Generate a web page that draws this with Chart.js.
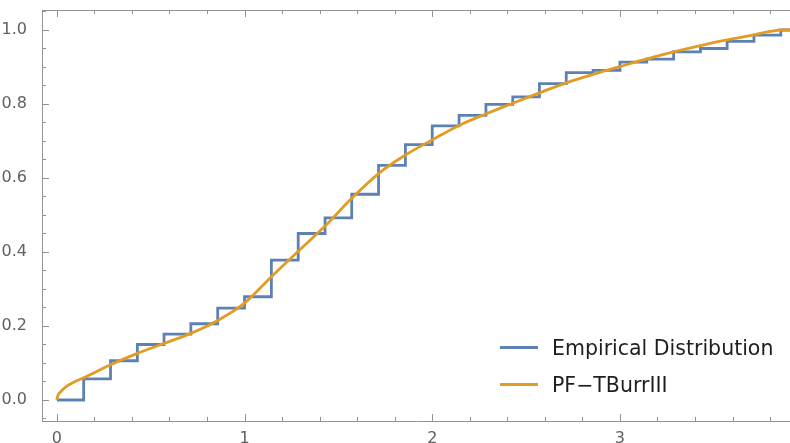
<!DOCTYPE html>
<html>
<head>
<meta charset="utf-8">
<script src="https://cdn.jsdelivr.net/npm/chart.js@4.4.0/dist/chart.umd.min.js"></script>
<style>
  html, body { margin: 0; padding: 0; background: #fff; }
  #wrap { position: relative; width: 790px; height: 443px; }
  #legend { position: absolute; left: 500px; top: 329px; font-family: "DejaVu Sans", sans-serif; font-size: 20.5px; color: #1e1e1e; }
  .item { display: flex; align-items: center; height: 37px; }
  .swatch { width: 38px; height: 2.5px; margin-right: 14px; }
</style>
</head>
<body>
<div id="wrap">
  <canvas id="chart" width="790" height="443"></canvas>
  <div id="legend"></div>
</div>
<script>
/* CDF: empirische verdeling (trap) tegen de PF-TBurrIII curve */

const stepX = [0, 0.143, 0.286, 0.429, 0.571, 0.714, 0.857, 1.0, 1.143, 1.286, 1.429, 1.571, 1.714, 1.857,
               2.0, 2.143, 2.286, 2.429, 2.571, 2.714, 2.857, 3.0, 3.143, 3.286, 3.429, 3.571, 3.714, 3.857, 3.95];
const stepY = [0, 0.057, 0.106, 0.150, 0.178, 0.206, 0.248, 0.279, 0.378, 0.450, 0.492, 0.556, 0.634, 0.690,
               0.741, 0.769, 0.799, 0.819, 0.855, 0.885, 0.891, 0.913, 0.921, 0.941, 0.950, 0.969, 0.986, 1.0, 1.0];

const curveX = [0, 0.005, 0.02, 0.05, 0.09, 0.143, 0.286, 0.429, 0.571, 0.714, 0.857, 1.0, 1.143, 1.286, 1.429,
                1.571, 1.714, 1.857, 2.0, 2.143, 2.286, 2.429, 2.571, 2.714, 2.857, 3.0, 3.143, 3.286, 3.429,
                3.571, 3.714, 3.8, 3.857, 3.95];
const curveY = [0, 0.011, 0.022, 0.036, 0.048, 0.060, 0.095, 0.126, 0.153, 0.180, 0.215, 0.262, 0.333, 0.402, 0.470,
                0.545, 0.612, 0.662, 0.703, 0.742, 0.773, 0.802, 0.830, 0.857, 0.880, 0.901, 0.922, 0.941, 0.958,
                0.973, 0.987, 0.996, 1.0, 1.0];

const seriesNames = ["Empirical Distribution", "PF\u2212TBurrIII"];
const xMajorTicks = [0, 1, 2, 3];
const yMajorTicks = [0, 0.2, 0.4, 0.6, 0.8, 1.0];
const xMinorTicks = [0.2, 0.4, 0.6, 0.8, 1.2, 1.4, 1.6, 1.8, 2.2, 2.4, 2.6, 2.8, 3.2, 3.4, 3.6, 3.8];
const yMinorTicks = [-0.05, 0.05, 0.1, 0.15, 0.25, 0.3, 0.35, 0.45, 0.5, 0.55, 0.65, 0.7, 0.75,
                     0.85, 0.9, 0.95, 1.05];

const blue = "rgb(94,129,181)";
const orange = "rgb(225,156,36)";
const frameColor = "#939393";
const labelColor = "#606060";
const fontFamily = "'DejaVu Sans', sans-serif";

const toPoints = (xs, ys) => xs.map((x, i) => ({x: x, y: ys[i]}));

// geen extra randruimte voor de labels, het plotvlak ligt vast
const noPad = s => { s.paddingTop = 0; s.paddingBottom = 0; s.paddingLeft = 0; s.paddingRight = 0; };

// Mathematica-achtige frame: ticks naar binnen, ook aan de bovenkant
const frameTicks = {
    id: "frameTicks",
    afterDatasetsDraw(chart) {
        const {ctx, chartArea: a, scales: {x, y}} = chart;
        ctx.save();
        ctx.strokeStyle = frameColor;
        ctx.lineWidth = 1;
        ctx.beginPath();
        ctx.moveTo(a.left, a.top + 0.5);
        ctx.lineTo(a.right, a.top + 0.5);
        const xt = (v, len) => {
            const px = Math.round(x.getPixelForValue(v)) + 0.5;
            ctx.moveTo(px, a.bottom); ctx.lineTo(px, a.bottom - len);
            ctx.moveTo(px, a.top); ctx.lineTo(px, a.top + len);
        };
        const yt = (v, len) => {
            const py = Math.round(y.getPixelForValue(v)) + 0.5;
            ctx.moveTo(a.left, py); ctx.lineTo(a.left + len, py);
        };
        xMajorTicks.forEach(v => xt(v, 7));
        xMinorTicks.forEach(v => xt(v, 4));
        yMajorTicks.forEach(v => yt(v, 7));
        yMinorTicks.forEach(v => yt(v, 4));
        ctx.stroke();
        ctx.restore();
    }
};

const chart = new Chart(document.getElementById("chart"), {
    type: "line",
    data: {
        datasets: [{
            label: seriesNames[0],
            data: toPoints(stepX, stepY),
            borderColor: blue,
            borderWidth: 2.8,
            stepped: true,
            pointRadius: 0,
            fill: false,
            order: 2
        }, {
            label: seriesNames[1],
            data: toPoints(curveX, curveY),
            borderColor: orange,
            borderWidth: 2.8,
            cubicInterpolationMode: "monotone",
            pointRadius: 0,
            fill: false,
            order: 1
        }]
    },
    options: {
        responsive: false,
        animation: false,
        layout: {padding: {top: 10, left: 0, right: 0, bottom: 0}},
        plugins: {legend: {display: false}, tooltip: {enabled: false}},
        scales: {
            x: {
                type: "linear",
                min: -0.079,
                max: 3.906,
                afterFit: s => { s.height = 22; noPad(s); },
                afterBuildTicks: s => { s.ticks = xMajorTicks.map(v => ({value: v})); },
                grid: {display: false},
                border: {display: true, color: frameColor, width: 1},
                ticks: {color: labelColor, font: {family: fontFamily, size: 16}, padding: 0,
                        maxRotation: 0, autoSkip: false, callback: v => String(v)}
            },
            y: {
                type: "linear",
                min: -0.0568,
                max: 1.054,
                afterFit: s => { s.width = 42; noPad(s); },
                afterBuildTicks: s => { s.ticks = yMajorTicks.map(v => ({value: v})); },
                grid: {display: false},
                border: {display: true, color: frameColor, width: 1},
                ticks: {color: labelColor, font: {family: fontFamily, size: 16}, padding: 7,
                        autoSkip: false, callback: v => v.toFixed(1)}
            }
        }
    },
    plugins: [frameTicks]
});

// legenda rechtsonder in het plotvlak
const legend = document.getElementById("legend");
chart.data.datasets.forEach(ds => {
    const row = document.createElement("div");
    row.className = "item";
    const sw = document.createElement("span");
    sw.className = "swatch";
    sw.style.background = ds.borderColor;
    const txt = document.createElement("span");
    txt.textContent = ds.label;
    row.appendChild(sw);
    row.appendChild(txt);
    legend.appendChild(row);
});
</script>
</body>
</html>
